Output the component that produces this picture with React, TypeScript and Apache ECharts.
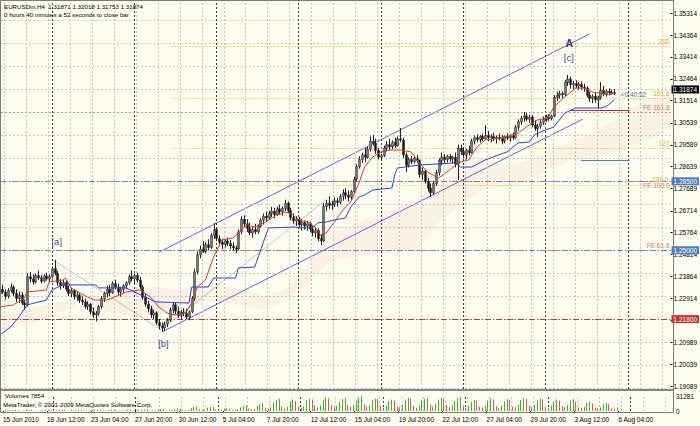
import React, { useEffect, useRef } from "react";
import * as echarts from "echarts";

const FONT = '"Liberation Sans", Arial, sans-serif';
const symbolName = "EURUSDm,H4";
const timerText = "0 hours 40 minutes a 52 seconds to close bar";

// H4 candles, prices in 1/10000 units: [open, high, low, close]; bar 0 = 15 Jun 2010 20:00
const candles: number[][] = [
  [12310,12345,12295,12330],[12330,12350,12310,12318],[12318,12330,12285,12300],[12300,12335,12290,12325],
  [12325,12355,12315,12340],[12340,12348,12300,12312],[12312,12330,12275,12290],[12290,12320,12270,12305],
  [12305,12318,12262,12270],[12270,12285,12240,12262],[12262,12400,12255,12385],[12385,12405,12360,12375],
  [12375,12395,12350,12362],[12362,12398,12355,12390],[12390,12412,12370,12380],[12380,12392,12355,12365],
  [12365,12395,12360,12388],[12388,12402,12368,12375],[12375,12395,12360,12385],[12385,12430,12378,12420],
  [12420,12458,12390,12400],[12400,12410,12345,12360],[12360,12375,12330,12345],[12345,12370,12335,12360],
  [12360,12368,12320,12330],[12330,12345,12300,12312],[12312,12335,12295,12325],[12325,12330,12285,12298],
  [12298,12318,12280,12305],[12305,12312,12270,12282],[12282,12300,12262,12275],[12275,12290,12245,12255],
  [12255,12278,12240,12265],[12265,12270,12220,12232],[12232,12250,12205,12218],[12218,12235,12190,12225],
  [12225,12262,12215,12255],[12255,12300,12245,12290],[12290,12320,12275,12312],[12312,12345,12295,12330],
  [12330,12350,12300,12315],[12315,12365,12310,12355],[12355,12372,12330,12340],[12340,12355,12305,12318],
  [12318,12340,12298,12330],[12330,12352,12315,12345],[12345,12365,12330,12358],[12358,12395,12350,12385],
  [12385,12412,12365,12375],[12375,12398,12355,12390],[12390,12402,12360,12370],[12370,12385,12330,12340],
  [12340,12348,12285,12295],[12295,12310,12255,12265],[12265,12280,12230,12245],[12245,12258,12205,12218],
  [12218,12240,12200,12228],[12228,12235,12175,12185],[12185,12200,12155,12170],[12170,12185,12144,12162],
  [12162,12190,12150,12180],[12180,12205,12165,12195],[12195,12250,12188,12240],[12240,12275,12225,12262],
  [12262,12270,12220,12235],[12235,12255,12205,12215],[12215,12240,12198,12230],[12230,12248,12212,12225],
  [12225,12245,12200,12210],[12210,12238,12195,12232],[12232,12300,12225,12290],[12290,12420,12280,12405],
  [12405,12495,12395,12480],[12480,12520,12465,12505],[12505,12540,12488,12495],[12495,12535,12485,12525],
  [12525,12548,12500,12512],[12512,12575,12505,12565],[12565,12618,12550,12590],[12590,12600,12540,12550],
  [12550,12565,12520,12535],[12535,12550,12505,12525],[12525,12548,12512,12540],[12540,12555,12518,12530],
  [12530,12545,12505,12518],[12518,12535,12498,12510],[12510,12520,12488,12505],[12505,12590,12500,12580],
  [12580,12648,12570,12635],[12635,12652,12600,12615],[12615,12635,12580,12595],[12595,12620,12565,12575],
  [12575,12600,12555,12590],[12590,12615,12570,12580],[12580,12612,12572,12605],[12605,12640,12598,12630],
  [12630,12660,12612,12648],[12648,12668,12625,12640],[12640,12670,12632,12660],[12660,12688,12645,12670],
  [12670,12685,12640,12655],[12655,12690,12650,12680],[12680,12698,12655,12668],[12668,12690,12650,12682],
  [12682,12720,12670,12705],[12705,12712,12660,12672],[12672,12685,12630,12642],[12642,12660,12615,12628],
  [12628,12648,12605,12635],[12635,12645,12598,12612],[12612,12635,12585,12620],[12620,12630,12590,12605],
  [12605,12628,12585,12615],[12615,12625,12580,12592],[12592,12605,12560,12575],[12575,12598,12555,12585],
  [12585,12595,12538,12550],[12550,12568,12522,12540],[12540,12705,12535,12690],[12690,12720,12670,12705],
  [12705,12735,12680,12695],[12695,12715,12675,12700],[12700,12730,12688,12715],[12715,12728,12690,12708],
  [12708,12745,12700,12735],[12735,12765,12715,12750],[12750,12770,12722,12740],[12740,12760,12712,12730],
  [12730,12762,12720,12755],[12755,12820,12748,12810],[12810,12875,12800,12865],[12865,12910,12855,12895],
  [12895,12925,12880,12915],[12915,12945,12885,12905],[12905,12950,12898,12940],[12940,12995,12930,12975],
  [12975,13002,12955,12965],[12965,12985,12920,12935],[12935,12945,12895,12905],[12905,12920,12890,12912],
  [12912,12955,12905,12945],[12945,12975,12930,12960],[12960,12985,12935,12950],[12950,12978,12940,12970],
  [12970,12990,12945,12955],[12955,12995,12950,12985],[12985,13032,12970,12980],[12980,12990,12900,12915],
  [12915,12925,12840,12870],[12870,12905,12860,12895],[12895,12910,12875,12885],[12885,12912,12878,12900],
  [12900,12915,12880,12890],[12890,12895,12815,12830],[12830,12860,12806,12845],[12845,12852,12790,12800],
  [12800,12815,12755,12770],[12770,12790,12732,12750],[12750,12800,12742,12790],[12790,12850,12780,12838],
  [12838,12900,12825,12890],[12890,12925,12870,12905],[12905,12918,12880,12895],[12895,12915,12882,12908],
  [12908,12920,12885,12898],[12898,12912,12878,12905],[12905,12925,12860,12875],[12875,12960,12806,12945],
  [12945,12960,12915,12930],[12930,12948,12900,12915],[12915,12942,12895,12935],[12935,12955,12912,12925],
  [12925,12985,12920,12975],[12975,13000,12960,12990],[12990,13005,12970,12982],[12982,13002,12968,12995],
  [12995,13008,12975,12985],[12985,13045,12980,13000],[13000,13020,12975,12990],[12990,13005,12970,12995],
  [12995,13010,12975,12985],[12985,13000,12965,12992],[12992,13008,12978,12985],[12985,13002,12960,12975],
  [12975,13000,12965,12995],[12995,13010,12980,12988],[12988,13005,12972,12998],[12998,13012,12980,12990],
  [12990,13045,12985,13035],[13035,13070,13020,13060],[13060,13085,13045,13075],[13075,13102,13060,13085],
  [13085,13098,13062,13070],[13070,13090,13055,13080],[13080,13088,13035,13045],[13045,13065,13020,13030],
  [13030,13050,12993,13040],[13040,13068,13030,13055],[13055,13082,13045,13070],[13070,13090,13058,13080],
  [13080,13092,13062,13072],[13072,13090,13065,13085],[13085,13175,13080,13165],[13165,13190,13150,13175],
  [13175,13195,13160,13182],[13182,13192,13162,13178],[13178,13240,13170,13230],[13230,13263,13215,13245],
  [13245,13255,13205,13220],[13220,13238,13200,13225],[13225,13240,13205,13215],[13215,13232,13198,13222],
  [13222,13235,13200,13210],[13210,13225,13190,13205],[13205,13215,13165,13175],[13175,13190,13145,13160],
  [13160,13178,13140,13170],[13170,13185,13142,13155],[13155,13172,13119,13165],[13165,13232,13155,13195],
  [13195,13215,13170,13180],[13180,13200,13168,13192],[13192,13205,13175,13185],[13185,13200,13178,13187],
  [13187.1,13201.8,13175.3,13187.4],
];

// tick volumes per bar
const volumes: number[] = [
  900,
  700,1200,2100,2300,2500,1100, 800,1300,2400,2600,2200,1000, 900,1100,2000,2500,2300,900,
  1500,1700,2600,2400,2800,1200, 800,1200,2300,2500,2700,1300, 900,1400,2500,2400,3100,1500,
  1000,1300,2400,2600,2900,1200, 1000,1300,2200,2700,3000,1100,
  1200,1500,2600,3000,3400,1400, 1400,1800,3500,4200,4800,2000, 1600,2200,4500,5200,4900,2300,
  1800,2500,6000,8500,9500,4000, 2500,3000,7000,8000,9000,3500,
  2000,2500,5500,6000,5000,2000, 2500,3500,8000,10500,12000,5000, 3500,4500,11000,14000,16000,7000,
  5000,8000,18000,23000,26000,10000, 6000,9000,20000,24000,21000,9000,
  7000,10000,22000,26000,24000,11000, 8000,12000,24000,29000,27000,12000, 8000,11000,20000,25000,28000,13000,
  9000,13000,22000,27000,31281,14000, 9000,12000,23000,26000,25000,10000,
  7000,11000,21000,24000,22000,9000, 8000,13000,24000,27000,26000,11000, 7000,12000,22000,25000,28000,13000,
  9000,14000,24000,28000,26000,12000, 8000,12000,21000,27000,29000,11000,
  7000,10000,19000,23000,22000,9000, 8000,12000,22000,26000,24000,10000, 7000,11000,20000,25000,23000,9000,
  8000,13000,23000,27000,25000,11000, 8000,12000,21000,26000,24000,9000,
  7000,11000,20000,24000,22000,9000, 8000,12000,22000,25000,19000,8000, 6000,9000,17000,20000,16000,7000,
  6000,8000,15000,17000,14000,6000, 5000,7854,
];

const timeLabels = ["15 Jun 2010","18 Jun 12:00","23 Jun 04:00","27 Jun 20:00","30 Jun 12:00","5 Jul 04:00","7 Jul 20:00","12 Jul 12:00","15 Jul 04:00","19 Jul 20:00","22 Jul 12:00","27 Jul 04:00","29 Jul 20:00","3 Aug 12:00","6 Aug 04:00"];
const timeLabelBars = [0,16,32,48,64,80,96,112,128,144,160,176,192,208,224];
const weekStartBars = [19,49,79,109,139,169,199,229];
const priceTicks = [1.35314,1.34364,1.33414,1.32464,1.31514,1.30539,1.29589,1.28639,1.27689,1.26714,1.25764,1.24814,1.23864,1.22914,1.21964,1.20989,1.20039,1.19089];
const volumeTicks = [0, 31281];

// Ichimoku lines
const tenkanBars = [0,5,9,10,17,18,23,24,26,32,35,39,41,46,51,55,58,61,64,68,70,72,75,78,81,85,87,90,93,97,101,104,106,109,113,115,117,119,122,126,128,131,133,136,139,142,146,150,153,156,160,164,167,171,174,177,183,189,193,196,200,202,206,210,213,216,218,222,224];
const tenkanVals = [1.2253,1.2262,1.2292,1.2318,1.2327,1.2362,1.2370,1.2379,1.2336,1.2296,1.2283,1.2283,1.2292,1.2318,1.2327,1.2296,1.2253,1.2227,1.2218,1.2231,1.2270,1.2340,1.2370,1.2471,1.2545,1.2553,1.2575,1.2610,1.2601,1.2623,1.2653,1.2666,1.2662,1.2632,1.2619,1.2601,1.2566,1.2575,1.2623,1.2688,1.2710,1.2793,1.2862,1.2906,1.2928,1.2936,1.2936,1.2928,1.2880,1.2840,1.2814,1.2849,1.2880,1.2893,1.2949,1.2980,1.2989,1.3010,1.3045,1.3067,1.3076,1.3124,1.3167,1.3206,1.3206,1.3189,1.3185,1.3176,1.3185];
const kijunBars = [0,4,7,10,17,19,23,35,36,46,53,57,69,70,76,78,86,87,93,96,98,108,109,114,116,119,122,126,128,131,133,136,143,144,145,153,166,168,172,177,182,185,189,193,195,199,202,206,210,219,221,224];
const kijunVals = [1.2131,1.2166,1.2209,1.2262,1.2283,1.2327,1.2349,1.2349,1.2336,1.2336,1.2296,1.2275,1.2270,1.2340,1.2340,1.2379,1.2379,1.2423,1.2427,1.2531,1.2597,1.2601,1.2597,1.2597,1.2619,1.2623,1.2632,1.2640,1.2688,1.2732,1.2740,1.2762,1.2771,1.2828,1.2858,1.2871,1.2880,1.2862,1.2862,1.2893,1.2915,1.2928,1.2967,1.2971,1.3002,1.3024,1.3036,1.3097,1.3119,1.3119,1.3124,1.3154];
const cloudBars = [0,8,16,24,32,40,48,56,64,72,80,88,96,104,112,120,128,136,144,152,160,168,176,184,192,200,208,216,224,232,240,248];
const cloudA = [1.2150,1.2170,1.2200,1.2240,1.2270,1.2300,1.2330,1.2340,1.2330,1.2340,1.2350,1.2330,1.2300,1.2330,1.2440,1.2560,1.2610,1.2650,1.2680,1.2720,1.2800,1.2850,1.2900,1.2870,1.2890,1.2930,1.2970,1.3010,1.3060,1.3130,1.3170,1.3160];
const cloudB = [1.2230,1.2240,1.2260,1.2280,1.2240,1.2230,1.2220,1.2230,1.2260,1.2270,1.2280,1.2260,1.2240,1.2280,1.2350,1.2450,1.2470,1.2480,1.2490,1.2500,1.2620,1.2700,1.2760,1.2777,1.2790,1.2853,1.2888,1.2900,1.2917,1.2960,1.3000,1.3060];

// drawn objects
const fiboNames = ["200", "161.8", "127", "100.0"];
const fiboPrices = [1.3389, 1.3163, 1.2945, 1.2784];
const fiboStartBar = 62.6;
const feNames = ["FE 161.8", "FE 100.0", "FE 61.8"];
const fePrices = [1.3141, 1.2775, 1.2545];
const hLinePrices = [1.285, 1.25, 1.218];
const channelUpper = [[58.2, 1.2492], [215.1, 1.3442]];
const channelLower = [[59.3, 1.2145], [212.6, 1.3071]];
const waveAB = [[19.4, 1.2458], [58.9, 1.2153]];
const waveBC = [[58.9, 1.2153], [118.9, 1.2719]];
const shortRed = [[208, 1.3111], [229.7, 1.3111]];
const shortBlue = [[211.9, 1.2893], [229.7, 1.2893]];
const annotTexts = ["[a]", "[b]", "[c]", "A", "<0:40:52"];
const annotBars = [20.8, 59.7, 207.5, 207.7, 226.4];
const annotPrices = [1.2536, 1.2096, 1.3337, 1.3404, 1.3176];

const annotStyle = [
  { color: "#4b4b7d", size: 9.5, weight: "normal", align: "center" },
  { color: "#4b4b7d", size: 9.5, weight: "normal", align: "center" },
  { color: "#4b4b7d", size: 9.5, weight: "normal", align: "center" },
  { color: "#33337a", size: 10.5, weight: "bold", align: "center" },
  { color: "#5a6a8c", size: 6.5, weight: "normal", align: "left" },
];
const fiboLabelDistance = [1, 1, 1, 2];
const feLabelPosition = ["insideEndTop", "insideEndBottom", "insideEndTop"];

const X_MIN = 0.47, X_MAX = 244.56;
const Y_MIN = 1.189584, Y_MAX = 1.357622;
const fmt5 = (v: number) => v.toFixed(5);

function buildOption(): any {
  const bars = candles.map((c, i) => [i, c[0] / 1e4, c[1] / 1e4, c[2] / 1e4, c[3] / 1e4]);
  const last = candles[candles.length - 1].map((v) => v / 1e4);
  const lastClose = last[3];
  const vols = volumes.map((v, i) => [i, v, i > 0 && v > volumes[i - 1] ? 1 : 0]);
  const gridBars: number[] = [];
  for (let k = 0; k * 8 + 1.7 < X_MAX; k++) gridBars.push(k * 8 + 1.7);
  const labelVals = timeLabelBars.map((b) => b + 0.7);

  const light = { color: "#c6c6ba", type: [2, 2], width: 1 };
  const dark = { color: "#3c3c3c", type: [2, 2], width: 1 };
  const smallLabel = { fontSize: 6.5, fontFamily: FONT };

  const levelItems: any[] = [];
  fiboPrices.forEach((p, k) => {
    levelItems.push([
      { coord: [fiboStartBar, p], lineStyle: { color: "#f2a12a", type: [1, 2], width: 1 },
        label: { show: true, position: "insideEndTop", formatter: fiboNames[k], color: "#f0a038", distance: fiboLabelDistance[k], ...smallLabel } },
      { coord: [X_MAX, p] },
    ]);
  });
  fePrices.forEach((p, k) => {
    levelItems.push({ yAxis: p, lineStyle: { color: "#e08a8a", type: [2, 2], width: 1 },
      label: { show: true, position: feLabelPosition[k], formatter: feNames[k], color: "#e07575", distance: 1, ...smallLabel } });
  });
  const hColors = ["#4d7cc0", "#4d7cc0", "#c4302e"];
  const hLineColors = ["#6d84b4", "#6d84b4", "#b33a3a"];
  hLinePrices.forEach((p, k) => {
    levelItems.push({ yAxis: p, lineStyle: { color: hLineColors[k], type: [6, 2, 1, 2], width: 1 },
      label: { show: true, position: "end", formatter: fmt5(p), color: "#fff", backgroundColor: hColors[k], padding: [1, 2, 0, 2], distance: 1, ...smallLabel } });
  });
  levelItems.push({ yAxis: lastClose, lineStyle: { color: "rgba(0,0,0,0)", width: 0 },
    label: { show: true, position: "end", formatter: fmt5(lastClose), color: "#fff", backgroundColor: "#000", padding: [1, 2, 0, 2], distance: 1, ...smallLabel } });
  levelItems.push([{ coord: shortRed[0], lineStyle: { color: "#b02a3c", type: "solid", width: 1 } }, { coord: shortRed[1] }]);
  levelItems.push([{ coord: shortBlue[0], lineStyle: { color: "#4f7fc4", type: "solid", width: 1 } }, { coord: shortBlue[1] }]);

  const header1 = `${symbolName}  ${last.map(fmt5).join(" ")}`;

  return {
    animation: false,
    backgroundColor: "#fdfdf0",
    textStyle: { fontFamily: FONT },
    grid: [
      { left: 1, right: 27, top: 3, height: 386 },
      { left: 1, right: 27, top: 396, height: 15 },
    ],
    xAxis: [
      { gridIndex: 0, type: "value", min: X_MIN, max: X_MAX, axisLine: { show: false }, axisTick: { show: false }, axisLabel: { show: false }, splitLine: { show: false } },
      { gridIndex: 1, type: "value", min: X_MIN, max: X_MAX, axisLine: { show: false },
        axisTick: { show: true, customValues: labelVals, length: 2, lineStyle: { color: "#000" } },
        axisLabel: { customValues: labelVals, align: "left", margin: 5, color: "#000", fontSize: 6.5,
          formatter: (v: number) => timeLabels[Math.round((v - 0.7) / 16)] || "" },
        splitLine: { show: false } },
    ],
    yAxis: [
      { gridIndex: 0, type: "value", position: "right", min: Y_MIN, max: Y_MAX, axisLine: { show: false },
        axisTick: { show: true, customValues: priceTicks, length: 2, lineStyle: { color: "#000" } },
        axisLabel: { customValues: priceTicks, formatter: (v: number) => fmt5(v), color: "#000", fontSize: 6.5, margin: 3 },
        splitLine: { show: false } },
      { gridIndex: 1, type: "value", position: "right", min: 0, max: 31281, axisLine: { show: false }, axisTick: { show: false },
        axisLabel: { customValues: volumeTicks, formatter: (v: number) => String(Math.round(v)), color: "#000", fontSize: 6.5, margin: 3 },
        splitLine: { show: false } },
    ],
    graphic: [
      { type: "text", x: 4, y: 3, z: 100, style: { text: header1, fill: "#000", fontSize: 6.2, fontFamily: FONT } },
      { type: "text", x: 4, y: 11, z: 100, style: { text: timerText, fill: "#000", fontSize: 6.2, fontFamily: FONT } },
      { type: "text", x: 5, y: 392, z: 100, style: { text: `Volumes ${volumes[volumes.length - 1]}`, fill: "#000", fontSize: 6.2, fontFamily: FONT } },
      { type: "text", x: 3, y: 401, z: 100, style: { text: "MetaTrader, \u00a9 2001-2009 MetaQuotes Software Corp.", fill: "#000", fontSize: 6.2, fontFamily: FONT } },
      { type: "rect", z: 100, shape: { x: 0, y: 389, width: 674, height: 2 }, style: { fill: "#858585" } },
      { type: "rect", z: 100, shape: { x: 0.5, y: 0.5, width: 673, height: 412 }, style: { fill: "none", stroke: "#7a7a7a", lineWidth: 1 } },
    ],
    series: [
      { type: "line", name: "gridMain", xAxisIndex: 0, yAxisIndex: 0, data: [], z: 1, clip: false,
        markLine: { silent: true, animation: false, symbol: ["none", "none"], label: { show: false },
          data: [
            ...priceTicks.map((v) => ({ yAxis: v, lineStyle: light })),
            ...gridBars.map((b) => ({ xAxis: b, lineStyle: light })),
            ...weekStartBars.map((b) => ({ xAxis: b, lineStyle: dark })),
          ] } },
      { type: "line", name: "gridVol", xAxisIndex: 1, yAxisIndex: 1, data: [], z: 1,
        markLine: { silent: true, animation: false, symbol: ["none", "none"], label: { show: false },
          data: [
            ...gridBars.map((b) => ({ xAxis: b, lineStyle: light })),
            ...weekStartBars.map((b) => ({ xAxis: b, lineStyle: dark })),
          ] } },
      { type: "custom", name: "cloud", xAxisIndex: 0, yAxisIndex: 0, z: 2, clip: true, silent: true,
        data: [[cloudBars[0], cloudA[0]]],
        renderItem: (_p: any, api: any) => {
          const pts: number[][] = [];
          cloudBars.forEach((b, k) => pts.push(api.coord([b, cloudA[k]])));
          for (let k = cloudBars.length - 1; k >= 0; k--) pts.push(api.coord([cloudBars[k], cloudB[k]]));
          return { type: "polygon", shape: { points: pts }, style: { fill: "rgba(236,150,140,0.11)", stroke: "none" } };
        } },
      { type: "line", name: "levels", xAxisIndex: 0, yAxisIndex: 0, data: [], z: 3, clip: false,
        markLine: { silent: true, animation: false, symbol: ["none", "none"], data: levelItems } },
      { type: "line", name: "channelUp", data: channelUpper, symbol: "none", z: 4, lineStyle: { color: "#7563b8", width: 1 } },
      { type: "line", name: "channelLow", data: channelLower, symbol: "none", z: 4, lineStyle: { color: "#7563b8", width: 1 } },
      { type: "line", name: "waveAB", data: waveAB, symbol: "none", z: 4, lineStyle: { color: "#c2c2c2", width: 1 } },
      { type: "line", name: "waveBC", data: waveBC, symbol: "none", z: 4, lineStyle: { color: "#c2c2c2", width: 1 } },
      { type: "custom", name: "candles", xAxisIndex: 0, yAxisIndex: 0, z: 5, clip: true, data: bars,
        encode: { x: 0, y: [1, 2, 3, 4] },
        renderItem: (_p: any, api: any) => {
          const i = api.value(0), o = api.value(1), h = api.value(2), l = api.value(3), c = api.value(4);
          const pO = api.coord([i, o]), pC = api.coord([i, c]), pH = api.coord([i, h]), pL = api.coord([i, l]);
          const x = Math.round(pO[0]) + 0.5;
          const top = Math.min(pO[1], pC[1]);
          const hgt = Math.max(Math.abs(pO[1] - pC[1]), 1);
          const bull = c >= o;
          return { type: "group", children: [
            { type: "line", shape: { x1: x, y1: pH[1], x2: x, y2: pL[1] }, style: { stroke: "#222", lineWidth: 1 } },
            { type: "rect", shape: { x: x - 1, y: top, width: 2, height: hgt }, style: { fill: bull ? "#7a7a7a" : "#141414", stroke: "#222", lineWidth: 0.5 } },
          ] };
        } },
      { type: "line", name: "tenkan", data: tenkanBars.map((b, k) => [b, tenkanVals[k]]), symbol: "none", z: 6, lineStyle: { color: "#e2372c", width: 1 } },
      { type: "line", name: "kijun", data: kijunBars.map((b, k) => [b, kijunVals[k]]), symbol: "none", z: 6, lineStyle: { color: "#2f3fdc", width: 1 } },
      { type: "custom", name: "notes", xAxisIndex: 0, yAxisIndex: 0, z: 7, clip: false, silent: true,
        data: annotTexts.map((_t, k) => [annotBars[k], annotPrices[k], k]),
        renderItem: (_p: any, api: any) => {
          const k = api.value(2);
          const p = api.coord([api.value(0), api.value(1)]);
          const s = annotStyle[k];
          return { type: "text", x: p[0], y: p[1], style: { text: annotTexts[k], fill: s.color, fontSize: s.size, fontWeight: s.weight, fontFamily: FONT, align: s.align, verticalAlign: "middle" } };
        } },
      { type: "custom", name: "volumes", xAxisIndex: 1, yAxisIndex: 1, z: 5, clip: true, data: vols,
        encode: { x: 0, y: 1 },
        renderItem: (_p: any, api: any) => {
          const i = api.value(0), v = api.value(1), up = api.value(2);
          const p0 = api.coord([i, 0]), p1 = api.coord([i, v]);
          const x = Math.round(p0[0]) + 0.5;
          return { type: "line", shape: { x1: x, y1: p0[1], x2: x, y2: p1[1] }, style: { stroke: up ? "#3fae3f" : "#e25555", lineWidth: 1 } };
        } },
    ],
  };
}

export default function App() {
  const ref = useRef<HTMLDivElement>(null);
  useEffect(() => {
    if (!ref.current) return;
    const chart = echarts.init(ref.current, null, { renderer: "svg" });
    chart.setOption(buildOption());
    return () => chart.dispose();
  }, []);
  return <div ref={ref} style={{ position: "fixed", left: 0, top: 0, width: 700, height: 426 }} />;
}
